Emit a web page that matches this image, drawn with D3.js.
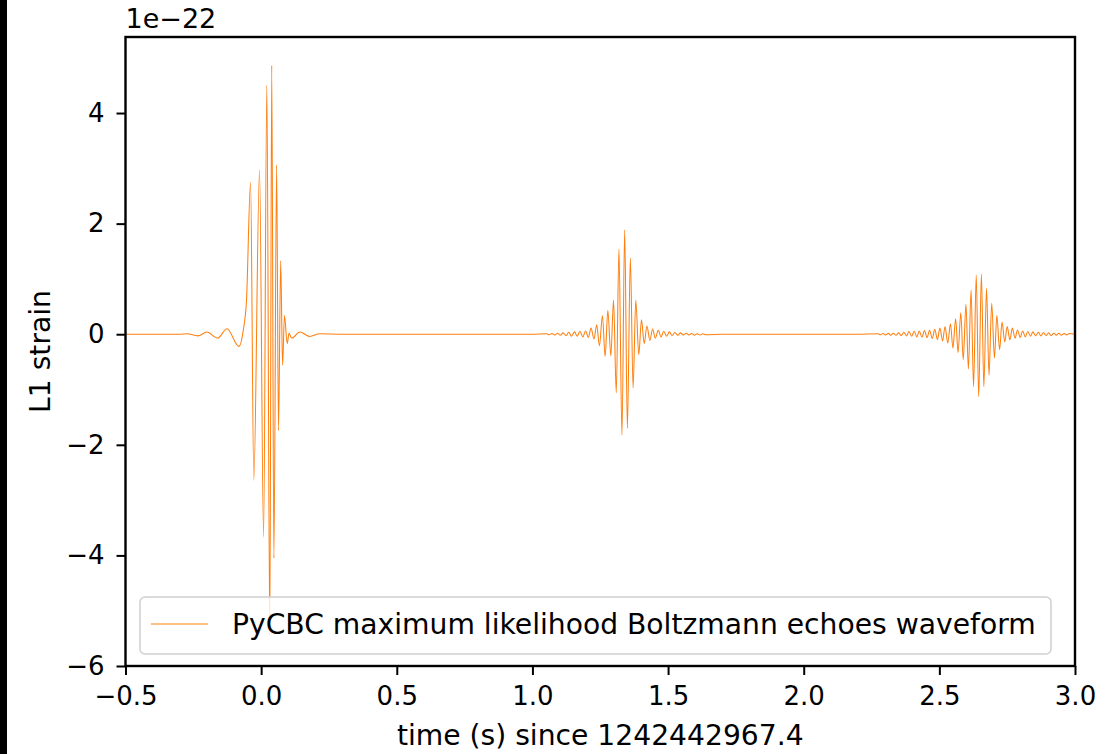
<!DOCTYPE html>
<html>
<head>
<meta charset="utf-8">
<script src="https://cdn.jsdelivr.net/npm/d3@7"></script>
<style>
  body { margin: 0; background: #fff; }
  svg { display: block; font-family: "DejaVu Sans", sans-serif; }
</style>
</head>
<body>
<svg id="chart" width="1106" height="754"></svg>
<script>
const width = 1106;
const height = 754;
const marginTop = 37;
const marginRight = 31;
const marginBottom = 88;
const marginLeft = 125.5;
const tickFont = 26;
const labelFont = 28.2;

// strain values are in units of 1e-22 (extrema + a few shoulder points)
const mergerTime = [-0.5, -0.30, -0.274, -0.233, -0.200, -0.160, -0.126, -0.082, -0.066, -0.054,
  -0.039, -0.027, -0.006, 0.009, 0.021, 0.032, 0.039, 0.047, 0.057, 0.064,
  0.072, 0.079, 0.086, 0.096, 0.103, 0.112, 0.143, 0.179, 0.216, 0.30, 1.00];
const mergerStrain = [0, 0, 0.01, -0.03, 0.04, -0.07, 0.10, -0.22, 0.07, 0.61,
  2.75, -2.64, 2.97, -3.67, 4.50, -5.45, 4.86, -4.05, 3.06, -1.74,
  1.33, -0.56, 0.34, -0.17, 0.02, -0.07, 0.04, -0.04, 0.01, 0, 0];

const echo1Time = [1.052, 1.062, 1.072, 1.083, 1.093, 1.103,
  1.113, 1.124, 1.134, 1.144, 1.155, 1.165, 1.175, 1.186, 1.196, 1.206,
  1.216, 1.227, 1.237, 1.247, 1.258, 1.268, 1.278, 1.289, 1.299, 1.309,
  1.319, 1.330, 1.340, 1.350, 1.361, 1.371, 1.381, 1.392, 1.402, 1.412,
  1.422, 1.433, 1.443, 1.453, 1.464, 1.474, 1.484, 1.495, 1.505, 1.515,
  1.525, 1.536, 1.546, 1.556, 1.567, 1.577,
  1.587, 1.598, 1.608, 1.618, 1.628, 1.639, 1.70, 2.20];
const echo1Strain = [0.008, -0.010, 0.012, -0.015, 0.018, -0.020,
  0.024, -0.024, 0.036, -0.036, 0.042, -0.036, 0.054, -0.048, 0.060, -0.060,
  0.11, -0.084, 0.17, -0.21, 0.34, -0.40, 0.43, -0.39, 0.62, -1.06,
  1.54, -1.82, 1.89, -1.70, 1.38, -0.97, 0.62, -0.37, 0.26, -0.17,
  0.15, -0.11, 0.096, -0.072, 0.072, -0.048, 0.054, -0.036, 0.042, -0.024,
  0.030, -0.018, 0.024, -0.012, 0.018, -0.012,
  0.012, -0.018, 0.010, -0.014, 0.008, -0.010, 0, 0];

const echo2Time = [2.274, 2.283, 2.293, 2.302, 2.312, 2.321, 2.331, 2.340,
  2.350, 2.359, 2.369, 2.379, 2.388, 2.398, 2.407, 2.417, 2.426, 2.436,
  2.445, 2.455, 2.464, 2.474, 2.483, 2.493, 2.502, 2.512, 2.521, 2.531,
  2.541, 2.550, 2.560, 2.569, 2.579, 2.588, 2.598, 2.607, 2.617, 2.626,
  2.636, 2.645, 2.655, 2.664, 2.674, 2.683, 2.693, 2.703, 2.712, 2.722,
  2.731, 2.741, 2.750, 2.760, 2.769, 2.779, 2.788, 2.798, 2.807, 2.817,
  2.826, 2.836, 2.845, 2.855, 2.865, 2.874, 2.884, 2.893, 2.903, 2.912,
  2.922, 2.931, 2.941, 2.950, 2.960, 2.969, 2.979, 3.0];
const echo2Strain = [0.008, -0.010, 0.012, -0.015, 0.015, -0.018, 0.018, -0.020,
  0.024, -0.024, 0.036, -0.030, 0.048, -0.036, 0.054, -0.048, 0.060, -0.054,
  0.066, -0.060, 0.072, -0.078, 0.090, -0.096, 0.11, -0.12, 0.14, -0.16,
  0.19, -0.25, 0.28, -0.33, 0.39, -0.46, 0.54, -0.63, 0.80, -0.95,
  1.07, -1.13, 1.09, -0.95, 0.83, -0.74, 0.56, -0.43, 0.34, -0.28,
  0.22, -0.14, 0.14, -0.10, 0.11, -0.072, 0.078, -0.060, 0.060, -0.048,
  0.048, -0.036, 0.042, -0.030, 0.036, -0.030, 0.030, -0.024, 0.024, -0.024,
  0.018, -0.018, 0.018, -0.018, 0.012, -0.012, 0.012, 0];

const xTicks = [-0.5, 0.0, 0.5, 1.0, 1.5, 2.0, 2.5, 3.0];
const yTicks = [-6, -4, -2, 0, 2, 4];
const legendLabel = "PyCBC maximum likelihood Boltzmann echoes waveform";
const xLabel = "time (s) since 1242442967.4";
const yLabel = "L1 strain";
const offsetLabel = "1e\u221222";

const svg = d3.select("#chart");

// black strip on the left edge of the original screenshot
svg.append("rect").attr("x", 0).attr("y", 0).attr("width", 7).attr("height", height).attr("fill", "#000");

const x = d3.scaleLinear()
  .domain([-0.5, 3.0])
  .range([marginLeft, width - marginRight]);

const y = d3.scaleLinear()
  .domain([-6, 5.375])
  .range([height - marginBottom, marginTop]);

// stitch the segments together
const data = [];
[[mergerTime, mergerStrain], [echo1Time, echo1Strain], [echo2Time, echo2Strain]].forEach(([ts, hs]) => {
  ts.forEach((t, i) => data.push([t, hs[i]]));
});

const line = d3.line()
  .x(d => x(d[0]))
  .y(d => y(d[1]))
  .curve(d3.curveMonotoneX);

svg.append("path")
  .datum(data)
  .attr("fill", "none")
  .attr("stroke", "#ff7f0e")
  .attr("stroke-width", 1.05)
  .attr("d", line);

// x axis
svg.append("g")
  .attr("transform", `translate(0,${height - marginBottom})`)
  .call(d3.axisBottom(x).tickValues(xTicks).tickFormat(d3.format(".1f")).tickSize(9).tickPadding(12).tickSizeOuter(0))
  .call(g => g.select(".domain").remove())
  .call(g => g.selectAll(".tick line").attr("stroke", "#000").attr("stroke-width", 2))
  .call(g => g.selectAll(".tick text").attr("fill", "#000").attr("font-size", tickFont).attr("font-family", "DejaVu Sans"));

// y axis
svg.append("g")
  .attr("transform", `translate(${marginLeft},0)`)
  .call(d3.axisLeft(y).tickValues(yTicks).tickFormat(d3.format("d")).tickSize(9).tickPadding(12).tickSizeOuter(0))
  .call(g => g.select(".domain").remove())
  .call(g => g.selectAll(".tick line").attr("stroke", "#000").attr("stroke-width", 2))
  .call(g => g.selectAll(".tick text").attr("fill", "#000").attr("font-size", tickFont).attr("font-family", "DejaVu Sans"));

// spines
svg.append("rect")
  .attr("x", marginLeft)
  .attr("y", marginTop)
  .attr("width", width - marginRight - marginLeft)
  .attr("height", height - marginBottom - marginTop)
  .attr("fill", "none")
  .attr("stroke", "#000")
  .attr("stroke-width", 2.4);

// offset text
svg.append("text")
  .attr("x", marginLeft)
  .attr("y", 28)
  .attr("font-size", 27)
  .text(offsetLabel);

// axis labels
svg.append("text")
  .attr("x", (marginLeft + width - marginRight) / 2)
  .attr("y", 745)
  .attr("text-anchor", "middle")
  .attr("font-size", labelFont)
  .text(xLabel);

svg.append("text")
  .attr("transform", `translate(50,${(marginTop + height - marginBottom) / 2}) rotate(-90)`)
  .attr("text-anchor", "middle")
  .attr("font-size", labelFont)
  .text(yLabel);

// legend
const legend = svg.append("g");
legend.append("rect")
  .attr("x", 140)
  .attr("y", 597)
  .attr("width", 911)
  .attr("height", 57)
  .attr("rx", 5)
  .attr("fill", "#fff")
  .attr("fill-opacity", 0.8)
  .attr("stroke", "#d0d0d0")
  .attr("stroke-width", 1.5);
legend.append("line")
  .attr("x1", 151).attr("x2", 208)
  .attr("y1", 624).attr("y2", 624)
  .attr("stroke", "#ff7f0e")
  .attr("stroke-width", 1.05);
legend.append("text")
  .attr("x", 232)
  .attr("y", 634)
  .attr("font-size", labelFont)
  .text(legendLabel);
</script>
</body>
</html>
